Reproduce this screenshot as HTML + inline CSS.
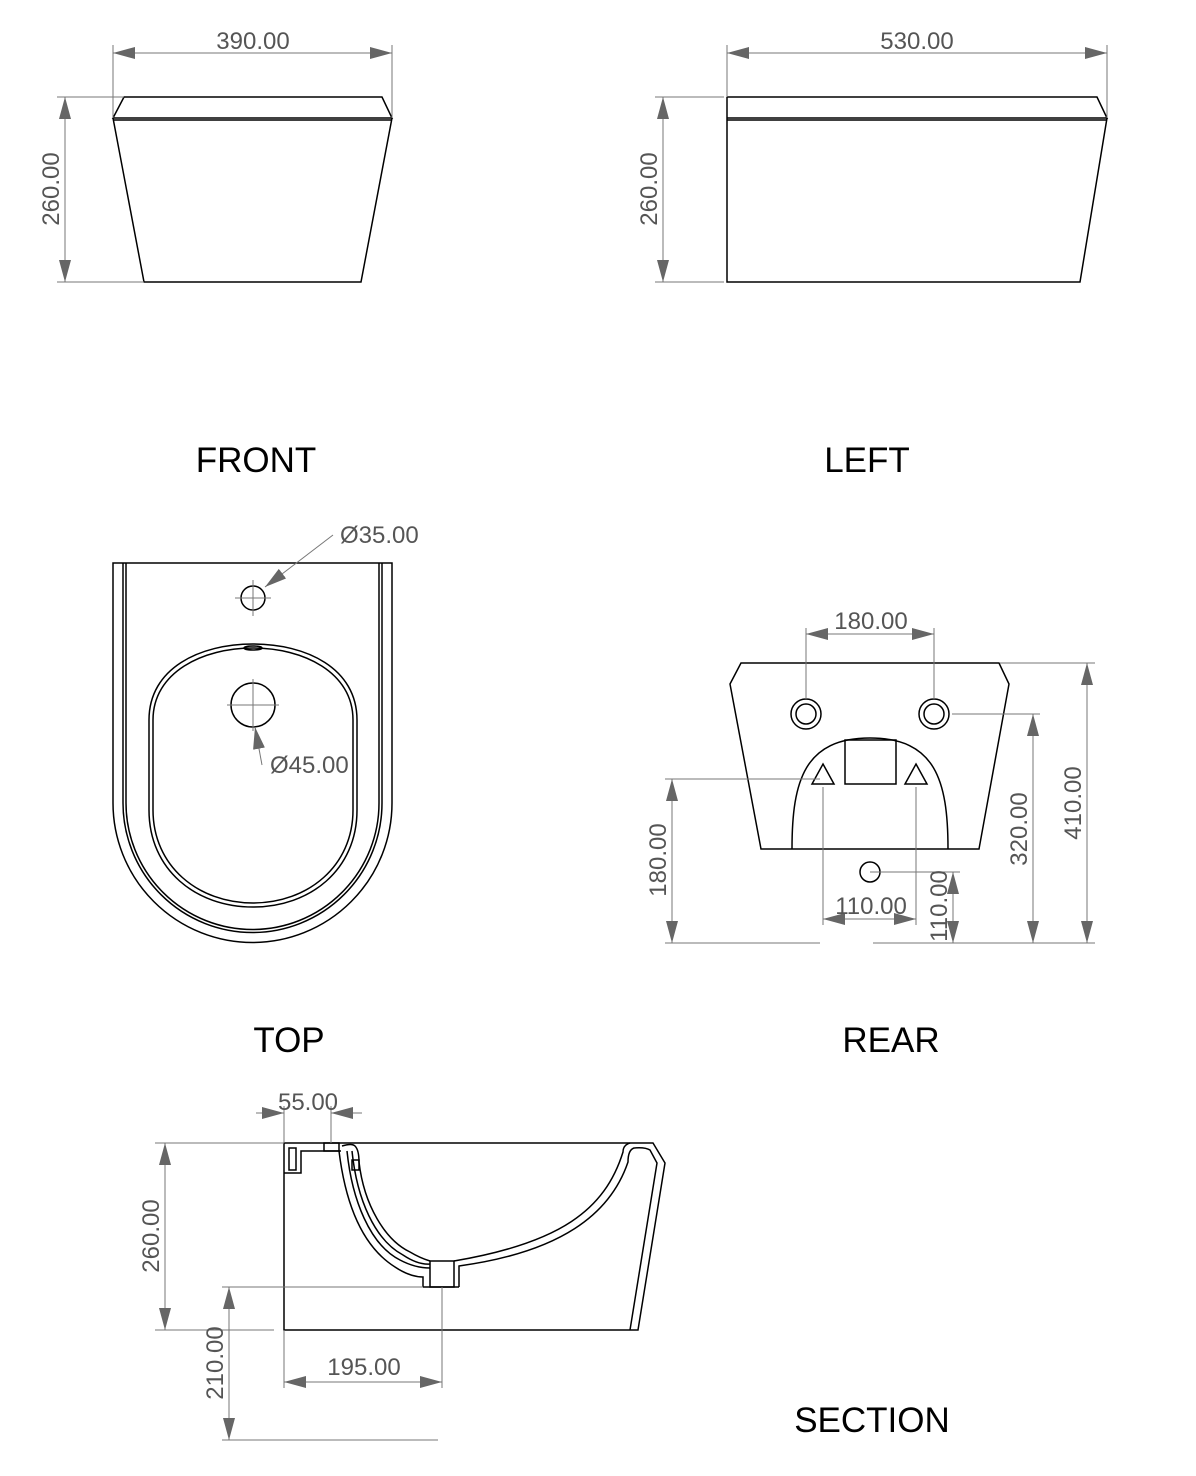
<!DOCTYPE html>
<html><head><meta charset="utf-8"><style>
html,body{margin:0;padding:0;background:#fff;}
svg{display:block;}
.d{font-family:"Liberation Sans",sans-serif;font-size:24px;fill:#555;}
.t{font-family:"Liberation Sans",sans-serif;font-size:35px;fill:#000;}
</style></head><body>
<svg width="1196" height="1476" viewBox="0 0 1196 1476" xmlns="http://www.w3.org/2000/svg">
<defs>
<marker id="a" viewBox="0 0 22 12" refX="22" refY="6" markerWidth="22" markerHeight="12" markerUnits="userSpaceOnUse" orient="auto-start-reverse"><path d="M0,0 L22,6 L0,12 Z" fill="#666"/></marker>
</defs>
<g fill="none" stroke="#000" stroke-width="1.5">
<!-- FRONT -->
<path d="M124,97 L382,97 L392,118 L113,118 Z"/>
<line x1="113" y1="120" x2="392" y2="120"/>
<path d="M113,118 L144,282 L361,282 L392,118"/>
<!-- LEFT -->
<path d="M727,97 L1097,97 L1107,118 L727,118"/>
<line x1="727" y1="120" x2="1107" y2="120"/>
<path d="M727,97 L727,282 L1080,282 L1107,118"/>
<!-- TOP -->
<path d="M113,563 L113,803 A139.5,139.5 0 0 0 392,803 L392,563 Z"/>
<path d="M123,563 L123,803 A129.5,129.5 0 0 0 382,803 L382,563"/>
<path d="M126,563 L126,803 A126.5,126.5 0 0 0 379,803 L379,563"/>
<path d="M149,720 C149,668 200,644 253,644 C306,644 357,668 357,720 L357,810 C357,870 310,907 253,907 C196,907 149,870 149,810 Z"/>
<path d="M153,720 C153,672 203,648 253,648 C303,648 353,672 353,720 L353,810 C353,866 308,903 253,903 C198,903 153,866 153,810 Z"/>
<ellipse cx="253" cy="648" rx="9" ry="2"/>
<circle cx="253" cy="598" r="12"/>
<circle cx="253" cy="705" r="22"/>
<!-- REAR -->
<path d="M741,663 L999,663 L1009,684 L979,849 L761,849 L730,684 Z"/>
<circle cx="806" cy="714" r="15"/><circle cx="806" cy="714" r="10"/>
<circle cx="934" cy="714" r="15"/><circle cx="934" cy="714" r="10"/>
<path d="M792,849 C792,780 805,738 870,738 C935,738 948,780 948,849"/>
<rect x="845" y="740" width="51" height="44"/>
<path d="M823,764 L834,784 L812,784 Z"/>
<path d="M916,764 L927,784 L905,784 Z"/>
<circle cx="870" cy="872" r="10"/>
<!-- SECTION -->
<path d="M284,1143 L653,1143 L665,1163 L638,1330 L284,1330 Z"/>
<path d="M630,1330 L657,1163 L650,1150 Q645,1147 634,1148 Q628,1150 628,1162 C610,1215 560,1252 459,1266 L459,1287"/>
<path d="M630,1143 Q623,1145 623,1152 C605,1210 560,1243 454,1261"/>
<rect x="430" y="1261" width="24" height="26"/>
<line x1="423" y1="1287" x2="459" y2="1287"/>
<path d="M284,1173 L301,1173 L301,1151 L341,1151"/>
<rect x="289" y="1148" width="7" height="22"/>
<rect x="324" y="1143" width="15" height="8"/>
<path d="M339,1151 C345,1200 360,1245 395,1267 Q410,1277 423,1277 L423,1287"/>
<path d="M342,1146 Q352,1143 355,1146 Q359,1150 359,1162"/>
<path d="M347,1151 C352,1200 370,1245 400,1260 Q415,1268 430,1268"/>
<path d="M352,1151 C357,1200 375,1240 403,1255 Q418,1265 430,1264"/>
<path d="M359,1162 C364,1205 385,1240 410,1252 Q420,1258 430,1261"/>
<rect x="352" y="1160" width="7" height="10"/>
</g>
<g fill="none" stroke="#777" stroke-width="1">
<line x1="113" y1="45" x2="113" y2="118"/><line x1="392" y1="45" x2="392" y2="118"/>
<line x1="113" y1="53" x2="392" y2="53" marker-start="url(#a)" marker-end="url(#a)"/>
<line x1="57" y1="97" x2="124" y2="97"/><line x1="57" y1="282" x2="144" y2="282"/>
<line x1="65" y1="97" x2="65" y2="282" marker-start="url(#a)" marker-end="url(#a)"/>
<line x1="727" y1="45" x2="727" y2="97"/><line x1="1107" y1="45" x2="1107" y2="118"/>
<line x1="727" y1="53" x2="1107" y2="53" marker-start="url(#a)" marker-end="url(#a)"/>
<line x1="655" y1="97" x2="724" y2="97"/><line x1="655" y1="282" x2="724" y2="282"/>
<line x1="663" y1="97" x2="663" y2="282" marker-start="url(#a)" marker-end="url(#a)"/>
<line x1="235" y1="598" x2="271" y2="598"/><line x1="253" y1="580" x2="253" y2="616"/>
<line x1="227" y1="705" x2="279" y2="705"/><line x1="253" y1="679" x2="253" y2="731"/>
<line x1="333" y1="535" x2="265" y2="587" marker-end="url(#a)"/>
<line x1="262" y1="765" x2="255" y2="727" marker-end="url(#a)"/>
<line x1="806" y1="628" x2="806" y2="699"/><line x1="934" y1="628" x2="934" y2="699"/>
<line x1="806" y1="634" x2="934" y2="634" marker-start="url(#a)" marker-end="url(#a)"/>
<line x1="1000" y1="663" x2="1095" y2="663"/>
<line x1="873" y1="943" x2="1095" y2="943"/>
<line x1="665" y1="943" x2="820" y2="943"/>
<line x1="1087" y1="663" x2="1087" y2="943" marker-start="url(#a)" marker-end="url(#a)"/>
<line x1="952" y1="714" x2="1040" y2="714"/>
<line x1="1033" y1="714" x2="1033" y2="943" marker-start="url(#a)" marker-end="url(#a)"/>
<line x1="665" y1="779" x2="820" y2="779"/>
<line x1="672" y1="779" x2="672" y2="943" marker-start="url(#a)" marker-end="url(#a)"/>
<line x1="823" y1="787" x2="823" y2="925"/><line x1="916" y1="787" x2="916" y2="925"/>
<line x1="823" y1="919" x2="916" y2="919" marker-start="url(#a)" marker-end="url(#a)"/>
<line x1="870" y1="872" x2="960" y2="872"/>
<line x1="953" y1="872" x2="953" y2="943" marker-start="url(#a)" marker-end="url(#a)"/>
<line x1="284" y1="1106" x2="284" y2="1143"/><line x1="331" y1="1106" x2="331" y2="1143"/>
<line x1="256" y1="1113" x2="284" y2="1113" marker-end="url(#a)"/>
<line x1="362" y1="1113" x2="331" y2="1113" marker-end="url(#a)"/>
<line x1="155" y1="1143" x2="284" y2="1143"/>
<line x1="155" y1="1330" x2="274" y2="1330"/>
<line x1="165" y1="1143" x2="165" y2="1330" marker-start="url(#a)" marker-end="url(#a)"/>
<line x1="222" y1="1287" x2="423" y2="1287"/>
<line x1="442" y1="1287" x2="442" y2="1388"/>
<line x1="284" y1="1330" x2="284" y2="1388"/>
<line x1="284" y1="1382" x2="442" y2="1382" marker-start="url(#a)" marker-end="url(#a)"/>
<line x1="229" y1="1287" x2="229" y2="1440" marker-start="url(#a)" marker-end="url(#a)"/>
<line x1="222" y1="1440" x2="438" y2="1440"/>
</g>
<g class="d">
<text x="253" y="49" text-anchor="middle">390.00</text>
<text x="917" y="49" text-anchor="middle">530.00</text>
<text transform="translate(59,189) rotate(-90)" text-anchor="middle">260.00</text>
<text transform="translate(657,189) rotate(-90)" text-anchor="middle">260.00</text>
<text x="340" y="543">Ø35.00</text>
<text x="270" y="773">Ø45.00</text>
<text x="871" y="629" text-anchor="middle">180.00</text>
<text x="871" y="914" text-anchor="middle">110.00</text>
<text transform="translate(1081,803) rotate(-90)" text-anchor="middle">410.00</text>
<text transform="translate(1027,829) rotate(-90)" text-anchor="middle">320.00</text>
<text transform="translate(666,860) rotate(-90)" text-anchor="middle">180.00</text>
<text transform="translate(947,906) rotate(-90)" text-anchor="middle">110.00</text>
<text x="308" y="1110" text-anchor="middle">55.00</text>
<text x="364" y="1375" text-anchor="middle">195.00</text>
<text transform="translate(159,1236) rotate(-90)" text-anchor="middle">260.00</text>
<text transform="translate(223,1363) rotate(-90)" text-anchor="middle">210.00</text>
</g>
<g class="t">
<text x="256" y="472" text-anchor="middle">FRONT</text>
<text x="867" y="472" text-anchor="middle">LEFT</text>
<text x="289" y="1052" text-anchor="middle">TOP</text>
<text x="891" y="1052" text-anchor="middle">REAR</text>
<text x="872" y="1432" text-anchor="middle">SECTION</text>
</g>
</svg>
</body></html>
